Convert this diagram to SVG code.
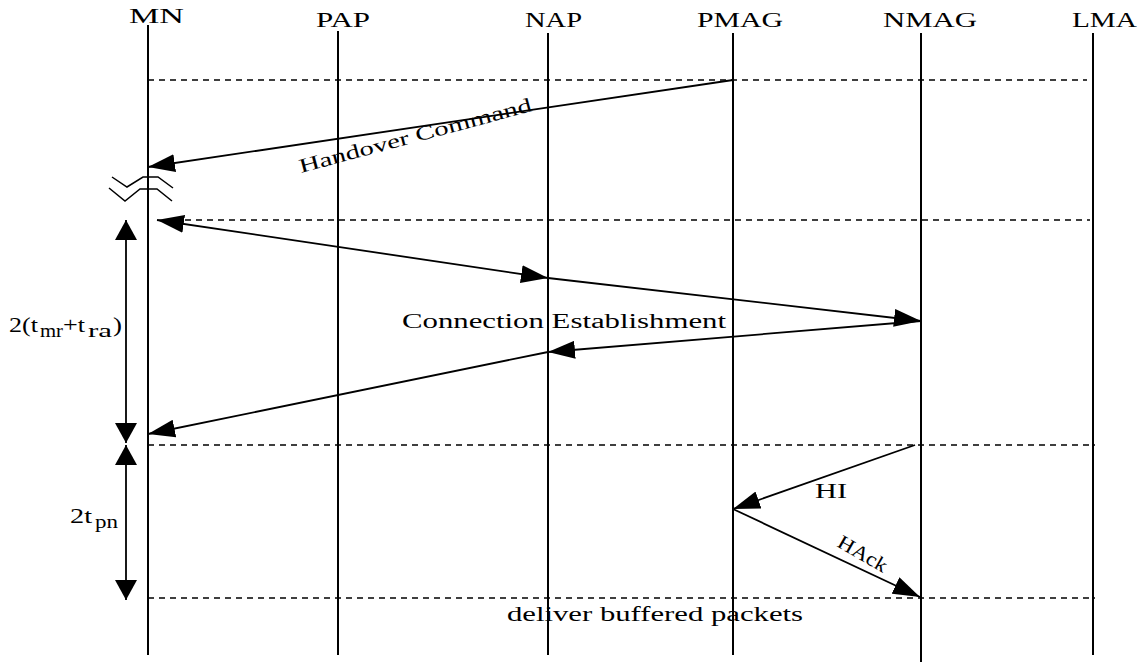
<svg xmlns="http://www.w3.org/2000/svg" width="1145" height="663" viewBox="0 0 1145 663">
  <style>
    .lbl { font-family: "Liberation Serif", "Times New Roman", serif; font-size: 20px; fill: #000; }
    .big { font-size: 22px; }
    .sub { font-size: 18px; }
    .life { stroke: #000; stroke-width: 2; fill: none; }
    .dash { stroke: #000; stroke-width: 1.5; stroke-dasharray: 6 5; fill: none; }
    .msg { stroke: #000; stroke-width: 1.8; fill: none; }
    .brk { stroke: #000; stroke-width: 1.5; fill: none; }
  </style>
  <defs>
    <marker id="head" markerUnits="userSpaceOnUse" markerWidth="28" markerHeight="18" refX="27" refY="9" orient="auto-start-reverse">
      <path d="M0,0 L27,9 L0,18 Z" fill="#000"/>
    </marker>
    <marker id="vhead" markerUnits="userSpaceOnUse" markerWidth="22" markerHeight="22" refX="20" refY="11" orient="auto-start-reverse">
      <path d="M0,0 L20,11 L0,22 Z" fill="#000"/>
    </marker>
  </defs>
  <rect width="1145" height="663" fill="#fff"/>

  <!-- lifelines with their entity names -->
  <g id="MN">
    <text class="lbl" x="129" y="23" textLength="55" lengthAdjust="spacingAndGlyphs">MN</text>
    <line class="life" x1="148" y1="25" x2="148" y2="655"/>
  </g>
  <g id="PAP">
    <text class="lbl" x="316" y="27" textLength="54" lengthAdjust="spacingAndGlyphs">PAP</text>
    <line class="life" x1="338" y1="31" x2="338" y2="655"/>
  </g>
  <g id="NAP">
    <text class="lbl" x="525" y="27" textLength="57" lengthAdjust="spacingAndGlyphs">NAP</text>
    <line class="life" x1="548" y1="33" x2="548" y2="655"/>
  </g>
  <g id="PMAG">
    <text class="lbl" x="697" y="27" textLength="86" lengthAdjust="spacingAndGlyphs">PMAG</text>
    <line class="life" x1="733" y1="33" x2="733" y2="655"/>
  </g>
  <g id="NMAG">
    <text class="lbl" x="883" y="27" textLength="94" lengthAdjust="spacingAndGlyphs">NMAG</text>
    <line class="life" x1="921" y1="33" x2="921" y2="662"/>
  </g>
  <g id="LMA">
    <text class="lbl" x="1072" y="27" textLength="65" lengthAdjust="spacingAndGlyphs">LMA</text>
    <line class="life" x1="1093" y1="33" x2="1093" y2="655"/>
  </g>

  <!-- connection break on the MN lifeline -->
  <g id="break">
    <polyline class="brk" points="112,177 127,187 143,177 158,177 173,188"/>
    <polyline class="brk" points="109,188 125,201 140,189 157,189 172,201"/>
  </g>

  <!-- timing phase separators -->
  <g id="separators">
    <line class="dash" x1="148" y1="80" x2="1087" y2="80"/>
    <line class="dash" x1="185" y1="220" x2="1090" y2="220"/>
    <line class="dash" x1="148" y1="445" x2="1095" y2="445"/>
    <line class="dash" x1="148" y1="598" x2="1095" y2="598"/>
  </g>

  <!-- messages -->
  <g id="connectors">
    <line class="msg" x1="733" y1="80" x2="148" y2="167" marker-end="url(#head)"/>
    <path class="msg" d="M157,220 L548,278" marker-start="url(#head)" marker-end="url(#head)"/>
    <line class="msg" x1="548" y1="278" x2="921" y2="321" marker-end="url(#head)"/>
    <line class="msg" x1="921" y1="321" x2="548" y2="352" marker-end="url(#head)"/>
    <line class="msg" x1="548" y1="352" x2="148" y2="434" marker-end="url(#head)"/>
    <line class="msg" x1="915" y1="445" x2="733" y2="509" marker-end="url(#head)"/>
    <line class="msg" x1="733" y1="509" x2="920" y2="597" marker-end="url(#head)"/>
    <line class="msg" x1="126" y1="220" x2="126" y2="443" marker-start="url(#vhead)" marker-end="url(#vhead)"/>
    <line class="msg" x1="126" y1="445" x2="126" y2="600" marker-start="url(#vhead)" marker-end="url(#vhead)"/>
  </g>

  <!-- message labels -->
  <g id="labels">
    <text class="lbl" x="301" y="173" transform="rotate(-15 301 173)" textLength="240" lengthAdjust="spacingAndGlyphs">Handover Command</text>
    <text class="lbl" x="402" y="328" textLength="324" lengthAdjust="spacingAndGlyphs">Connection Establishment</text>
    <text class="lbl" x="815" y="498" textLength="32" lengthAdjust="spacingAndGlyphs">HI</text>
    <text class="lbl" x="836" y="546" transform="rotate(30 836 546)" textLength="54" lengthAdjust="spacingAndGlyphs">HAck</text>
    <text class="lbl" x="507" y="621" textLength="296" lengthAdjust="spacingAndGlyphs">deliver buffered packets</text>
  </g>

  <!-- interval labels: 2(t_mr + t_ra) and 2t_pn -->
  <g id="interval-labels">
    <text class="lbl big" x="9" y="332" textLength="29" lengthAdjust="spacingAndGlyphs">2(t</text>
    <text class="lbl sub" x="40" y="337" textLength="23" lengthAdjust="spacingAndGlyphs">mr</text>
    <text class="lbl big" x="63" y="332" textLength="22" lengthAdjust="spacingAndGlyphs">+t</text>
    <text class="lbl sub" x="88" y="337" textLength="24" lengthAdjust="spacingAndGlyphs">ra</text>
    <text class="lbl big" x="113" y="332" textLength="9" lengthAdjust="spacingAndGlyphs">)</text>
    <text class="lbl big" x="70" y="523" textLength="22" lengthAdjust="spacingAndGlyphs">2t</text>
    <text class="lbl sub" x="95" y="528" textLength="23" lengthAdjust="spacingAndGlyphs">pn</text>
  </g>
</svg>
